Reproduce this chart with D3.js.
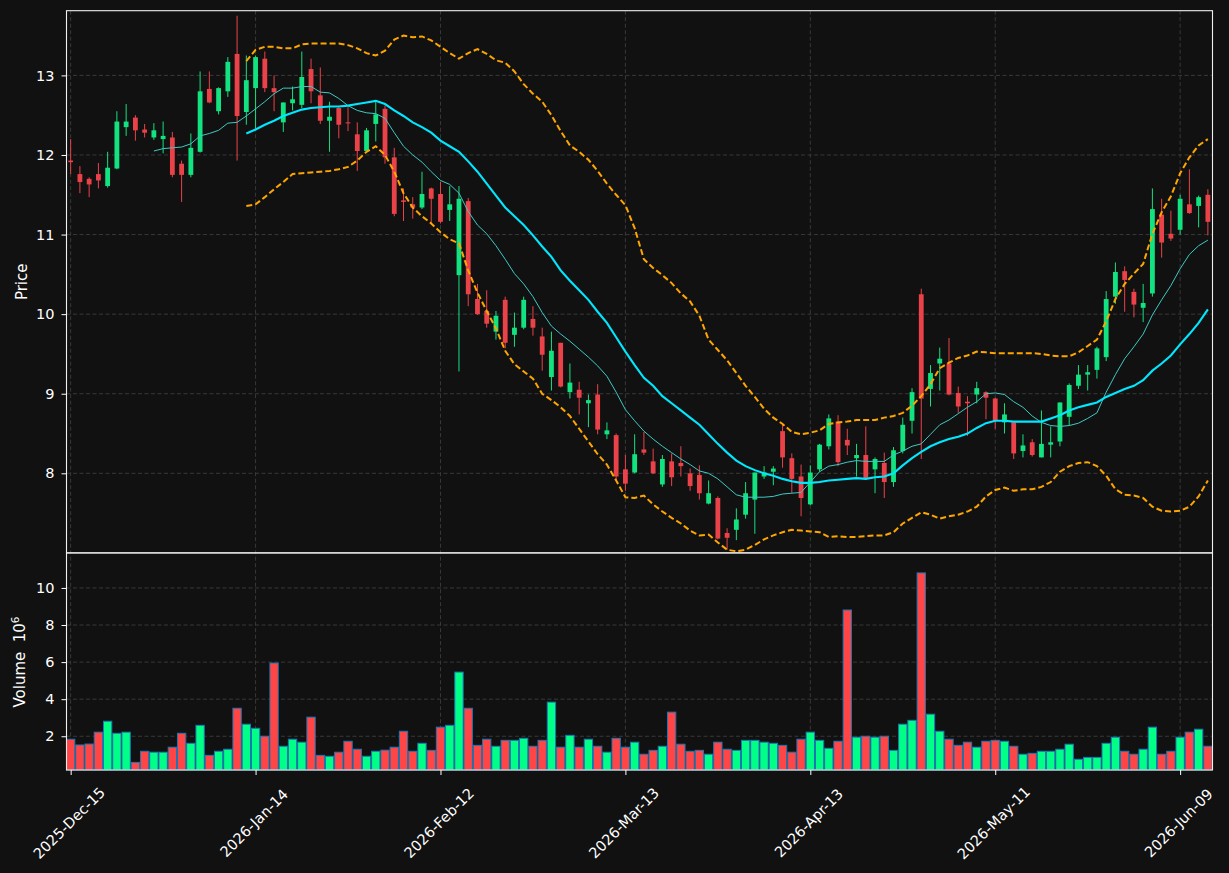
<!DOCTYPE html>
<html>
<head>
<meta charset="utf-8">
<script src="https://cdn.jsdelivr.net/npm/d3@7"></script>
<style>
  body { margin: 0; background: #111111; }
  svg { display: block; font-family: 'DejaVu Sans', sans-serif; }
</style>
</head>
<body>
<div id="chart"></div>
<script>
// OHLC, one entry per trading day (index 0 = 2025-Dec-15)
var opens = [
  11.93, 11.76, 11.70, 11.76, 11.61, 11.83, 12.35, 12.47, 12.32, 12.22,
  12.20, 12.22, 11.89, 11.75, 12.04, 12.83, 12.55, 12.80, 13.27, 12.54,
  12.84, 13.21, 12.84, 12.41, 12.65, 12.63, 13.08, 12.75, 12.43, 12.59,
  12.41, 12.26, 12.05, 12.39, 12.58, 11.97, 11.43, 11.38, 11.34, 11.58,
  11.51, 11.31, 10.49, 11.42, 10.19, 10.04, 9.78, 10.18, 9.74, 9.83,
  9.94, 9.72, 9.21, 9.64, 9.02, 9.05, 8.88, 8.99, 8.49, 8.48,
  8.05, 8.01, 8.30, 8.15, 7.86, 8.15, 8.13, 8.00, 7.98, 7.62,
  7.69, 7.25, 7.29, 7.48, 7.67, 7.96, 8.02, 8.53, 8.19, 7.96,
  7.61, 8.05, 8.34, 8.65, 8.42, 8.19, 8.23, 8.05, 8.13, 7.89,
  8.28, 8.66, 10.25, 9.06, 9.38, 9.38, 9.01, 8.90, 8.99, 9.02,
  8.94, 8.64, 8.64, 8.28, 8.39, 8.20, 8.36, 8.40, 8.71, 9.10,
  9.24, 9.30, 9.46, 10.22, 10.54, 10.28, 10.08, 10.26, 11.25, 11.01,
  11.06, 11.38, 11.36, 11.50
]
var highs = [
  12.20, 11.86, 11.72, 11.90, 12.04, 12.55, 12.64, 12.50, 12.39, 12.40,
  12.42, 12.29, 11.93, 12.27, 13.05, 13.05, 12.85, 13.23, 13.75, 13.25,
  13.25, 13.30, 13.00, 12.66, 12.86, 13.30, 13.21, 13.10, 12.67, 12.60,
  12.60, 12.41, 12.34, 12.67, 12.62, 12.09, 11.58, 11.47, 11.79, 11.59,
  11.66, 11.61, 11.61, 11.46, 10.38, 10.30, 10.04, 10.22, 10.02, 10.22,
  10.10, 9.83, 9.78, 9.64, 9.38, 9.15, 8.99, 9.12, 8.64, 8.50,
  8.23, 8.49, 8.52, 8.31, 8.23, 8.25, 8.34, 8.06, 8.10, 7.91,
  7.71, 7.31, 7.56, 7.89, 8.01, 8.09, 8.09, 8.62, 8.25, 8.11,
  8.10, 8.37, 8.74, 8.73, 8.56, 8.37, 8.59, 8.20, 8.26, 8.33,
  8.70, 9.07, 10.32, 9.36, 9.58, 9.70, 9.09, 8.97, 9.15, 9.03,
  8.95, 8.88, 8.64, 8.49, 8.43, 8.79, 8.59, 8.89, 9.13, 9.36,
  9.36, 9.59, 10.29, 10.65, 10.60, 10.32, 10.38, 11.58, 11.45, 11.30,
  11.50, 11.82, 11.49, 11.57
]
var lows = [
  11.76, 11.52, 11.47, 11.58, 11.59, 11.82, 12.24, 12.18, 12.22, 12.19,
  12.02, 11.72, 11.41, 11.72, 12.03, 12.65, 12.51, 12.73, 11.93, 12.38,
  12.33, 12.79, 12.55, 12.29, 12.56, 12.59, 12.65, 12.39, 12.04, 12.21,
  12.30, 11.80, 12.04, 12.17, 11.89, 11.23, 11.17, 11.20, 11.32, 11.13,
  11.14, 11.17, 9.28, 10.10, 9.99, 9.83, 9.68, 9.57, 9.59, 9.81,
  9.73, 9.29, 9.04, 9.08, 8.94, 8.74, 8.58, 8.49, 8.43, 7.91,
  7.78, 8.00, 8.23, 7.99, 7.83, 7.84, 7.96, 7.78, 7.67, 7.61,
  7.17, 7.04, 7.16, 7.43, 7.24, 7.93, 7.85, 8.07, 7.75, 7.46,
  7.60, 8.02, 8.30, 8.09, 8.23, 7.96, 7.93, 7.75, 7.69, 7.83,
  8.25, 8.50, 8.18, 8.84, 9.04, 8.98, 8.76, 8.47, 8.88, 8.68,
  8.56, 8.50, 8.18, 8.20, 8.21, 8.20, 8.20, 8.34, 8.60, 9.06,
  9.04, 9.19, 9.41, 10.13, 10.03, 9.96, 9.90, 10.22, 10.71, 10.92,
  11.00, 11.26, 11.09, 10.99
]
var closes = [
  11.91, 11.66, 11.63, 11.68, 11.84, 12.42, 12.42, 12.31, 12.28, 12.31,
  12.24, 11.75, 11.75, 12.09, 12.80, 12.66, 12.84, 13.17, 12.49, 12.94,
  13.23, 12.84, 12.79, 12.66, 12.70, 12.98, 12.80, 12.43, 12.48, 12.38,
  12.40, 12.05, 12.31, 12.51, 11.97, 11.26, 11.41, 11.34, 11.51, 11.45,
  11.16, 11.38, 11.45, 10.25, 10.00, 9.88, 9.98, 9.64, 9.83, 10.18,
  9.83, 9.49, 9.54, 9.09, 9.14, 8.95, 8.92, 8.55, 8.54, 7.96,
  7.87, 8.24, 8.26, 8.00, 8.18, 7.95, 8.09, 7.84, 7.75, 7.75,
  7.18, 7.19, 7.42, 7.75, 8.01, 8.01, 8.06, 8.20, 7.93, 7.69,
  8.01, 8.36, 8.69, 8.14, 8.35, 8.23, 7.94, 8.18, 7.89, 8.29,
  8.61, 9.02, 8.94, 9.26, 9.44, 8.99, 8.84, 8.88, 9.07, 8.95,
  8.66, 8.74, 8.25, 8.35, 8.23, 8.37, 8.39, 8.89, 9.11, 9.24,
  9.27, 9.57, 10.19, 10.53, 10.43, 10.12, 10.14, 11.32, 10.90, 10.95,
  11.45, 11.27, 11.47, 11.16
]
// volume in millions
var volumes = [
  1.84, 1.53, 1.58, 2.22, 2.81, 2.16, 2.22, 0.59, 1.19, 1.14,
  1.14, 1.41, 2.16, 1.62, 2.59, 0.97, 1.19, 1.30, 3.51, 2.65,
  2.43, 2.00, 5.95, 1.46, 1.84, 1.68, 3.03, 0.97, 0.92, 1.14,
  1.73, 1.30, 0.92, 1.19, 1.25, 1.41, 2.27, 1.19, 1.62, 1.24,
  2.49, 2.59, 5.46, 3.51, 1.51, 1.84, 1.46, 1.78, 1.78, 1.89,
  1.46, 1.78, 3.84, 1.41, 2.05, 1.41, 1.84, 1.46, 1.14, 1.89,
  1.41, 1.68, 1.03, 1.24, 1.46, 3.30, 1.57, 1.19, 1.24, 1.03,
  1.68, 1.30, 1.24, 1.78, 1.78, 1.68, 1.62, 1.51, 1.14, 1.84,
  2.22, 1.78, 1.35, 1.73, 8.81, 1.95, 2.00, 1.95, 2.00, 1.24,
  2.65, 2.86, 10.81, 3.19, 2.27, 1.84, 1.51, 1.68, 1.41, 1.73,
  1.78, 1.73, 1.46, 1.03, 1.08, 1.19, 1.19, 1.30, 1.57, 0.76,
  0.86, 0.86, 1.62, 1.95, 1.19, 1.03, 1.30, 2.49, 1.03, 1.19,
  1.95, 2.22, 2.38, 1.46
]

// overlay lines (ma10 starts at day 9, the rest at day 19)
var ma10Start = 9
var ma10 = [
  12.05, 12.08, 12.09, 12.10, 12.14, 12.24, 12.27, 12.31, 12.40, 12.41,
  12.49,
  12.58, 12.67, 12.77, 12.84, 12.84, 12.86, 12.86, 12.79, 12.78, 12.71,
  12.62, 12.56, 12.53, 12.52, 12.46, 12.28, 12.11, 12.00, 11.91, 11.79,
  11.68, 11.63, 11.52, 11.29, 11.12, 11.01, 10.86, 10.69, 10.51, 10.38,
  10.22, 10.02, 9.85, 9.75, 9.66, 9.56, 9.46, 9.35, 9.22, 9.02,
  8.80, 8.66, 8.53, 8.43, 8.34, 8.26, 8.18, 8.11, 8.03, 8.00,
  7.93, 7.83, 7.73, 7.70, 7.70, 7.70, 7.71, 7.74, 7.75, 7.76,
  7.89, 8.02, 8.09, 8.11, 8.14, 8.16, 8.15, 8.15, 8.15, 8.23,
  8.28, 8.34, 8.37, 8.49, 8.61, 8.67, 8.75, 8.83, 8.90, 9.00,
  9.01, 8.99, 8.90, 8.83, 8.72, 8.64, 8.60, 8.59, 8.60, 8.63,
  8.69, 8.76, 9.02, 9.24, 9.44, 9.59, 9.75, 9.99, 10.18, 10.36,
  10.57, 10.75, 10.86, 10.93
]
var bandStart = 19
var ma20 = [
  12.27,
  12.32, 12.38, 12.43, 12.49, 12.53, 12.57, 12.59, 12.60, 12.61, 12.61,
  12.62, 12.64, 12.66, 12.68, 12.64, 12.56, 12.49, 12.41, 12.35, 12.28,
  12.18, 12.11, 12.04, 11.92, 11.79, 11.64, 11.49, 11.34, 11.23, 11.12,
  10.99, 10.85, 10.72, 10.55, 10.42, 10.30, 10.18, 10.03, 9.89, 9.71,
  9.53, 9.36, 9.20, 9.10, 8.97, 8.88, 8.79, 8.70, 8.61, 8.49,
  8.37, 8.26, 8.16, 8.09, 8.04, 8.00, 7.97, 7.93, 7.90, 7.88,
  7.88, 7.89, 7.91, 7.92, 7.93, 7.94, 7.93, 7.95, 7.96, 8.00,
  8.10, 8.19, 8.27, 8.34, 8.39, 8.43, 8.46, 8.50, 8.57, 8.63,
  8.66, 8.66, 8.65, 8.65, 8.65, 8.65, 8.69, 8.73, 8.79, 8.83,
  8.86, 8.89, 8.96, 9.01, 9.06, 9.10, 9.17, 9.29, 9.38, 9.48,
  9.62, 9.75, 9.89, 10.06
]
var bandUpper = [
  13.18,
  13.32, 13.36, 13.36, 13.34, 13.34, 13.39, 13.40, 13.40, 13.40, 13.40,
  13.38, 13.34, 13.28, 13.25, 13.31, 13.45, 13.50, 13.48, 13.49, 13.44,
  13.36, 13.28, 13.21, 13.28, 13.33, 13.27, 13.19, 13.16, 13.05, 12.89,
  12.77, 12.67, 12.50, 12.30, 12.12, 12.04, 11.94, 11.80, 11.64, 11.50,
  11.37, 11.08, 10.69, 10.58, 10.49, 10.39, 10.26, 10.16, 9.98, 9.68,
  9.55, 9.42, 9.26, 9.10, 8.96, 8.81, 8.70, 8.62, 8.52, 8.49,
  8.51, 8.54, 8.62, 8.64, 8.65, 8.67, 8.67, 8.67, 8.70, 8.72,
  8.76, 8.85, 8.97, 9.12, 9.32, 9.39, 9.45, 9.48, 9.53, 9.52,
  9.51, 9.51, 9.51, 9.51, 9.51, 9.50, 9.48, 9.47, 9.47, 9.52,
  9.60, 9.68, 9.91, 10.19, 10.38, 10.51, 10.63, 11.01, 11.28, 11.48,
  11.77, 11.97, 12.12, 12.20
]
var bandLower = [
  11.36,
  11.38, 11.47, 11.57, 11.66, 11.76, 11.77, 11.78, 11.79, 11.80, 11.82,
  11.85, 11.93, 12.04, 12.11, 12.00, 11.79, 11.52, 11.34, 11.23, 11.14,
  11.03, 10.94, 10.89, 10.55, 10.27, 10.04, 9.82, 9.54, 9.37, 9.28,
  9.19, 9.00, 8.92, 8.83, 8.72, 8.56, 8.40, 8.24, 8.11, 7.91,
  7.70, 7.69, 7.72, 7.61, 7.52, 7.44, 7.37, 7.28, 7.22, 7.23,
  7.13, 7.04, 7.02, 7.04, 7.10, 7.17, 7.22, 7.26, 7.29, 7.28,
  7.27, 7.26, 7.20, 7.21, 7.20, 7.20, 7.21, 7.22, 7.22, 7.26,
  7.37, 7.44, 7.51, 7.48, 7.43, 7.46, 7.48, 7.52, 7.58, 7.71,
  7.79, 7.82, 7.78, 7.80, 7.80, 7.83, 7.89, 8.02, 8.09, 8.13,
  8.14, 8.09, 7.97, 7.80, 7.73, 7.72, 7.69, 7.58, 7.53, 7.52,
  7.53, 7.58, 7.71, 7.91
]

// axis ticks
var dateTickIndex = [0, 20, 40, 60, 80, 100, 120]
var dateTickLabels = ['2025-Dec-15', '2026-Jan-14', '2026-Feb-12', '2026-Mar-13',
  '2026-Apr-13', '2026-May-11', '2026-Jun-09']
var priceTicks = [8, 9, 10, 11, 12, 13]
var volumeTicks = [2, 4, 6, 8, 10]

;(function () {
  'use strict'

  // Dimensions and stuff
  var w = 1229
  var h = 873
  var left = 66.5
  var right = 1212.5
  var priceTop = 10.7
  var priceBottom = 552.9
  var volBottom = 770
  var fontSize = '14.5px'

  var upColor = '#12e27f'
  var downColor = '#ea4249'
  var volUp = '#00ff87'
  var volDown = '#ff4545'
  var gridColor = '#3d3d3d'
  var textColor = '#ffffff'

  var svg = d3.select('#chart').append('svg')
    .attr('width', w)
    .attr('height', h)

  svg.append('rect')
    .attr('width', w).attr('height', h)
    .attr('fill', '#111111')

  var x = d3.scaleLinear().domain([-0.45, 123.5]).range([left, right])
  var yPrice = d3.scaleLinear().domain([7.0, 13.813]).range([priceBottom, priceTop])
  var yVol = d3.scaleLinear().domain([0.18, 11.89]).range([volBottom, priceBottom])
  var step = x(1) - x(0)

  // Grid lines
  var grid = svg.append('g').attr('class', 'grid')
    .attr('stroke', gridColor)
    .attr('stroke-width', 0.9)
    .attr('stroke-dasharray', '4,2.5')

  grid.selectAll('.gp').data(priceTicks).enter().append('line')
    .attr('x1', left).attr('x2', right)
    .attr('y1', function (d) { return yPrice(d) })
    .attr('y2', function (d) { return yPrice(d) })

  grid.selectAll('.gv').data(volumeTicks).enter().append('line')
    .attr('x1', left).attr('x2', right)
    .attr('y1', function (d) { return yVol(d) })
    .attr('y2', function (d) { return yVol(d) })

  grid.selectAll('.gx').data(dateTickIndex).enter().append('line')
    .attr('x1', function (d) { return x(d) })
    .attr('x2', function (d) { return x(d) })
    .attr('y1', priceTop).attr('y2', volBottom)

  var days = d3.range(opens.length)

  // Volume bars
  var bw = step * 0.9
  svg.append('g').selectAll('rect').data(days).enter().append('rect')
    .attr('x', function (i) { return x(i) - bw / 2 })
    .attr('y', function (i) { return yVol(volumes[i]) })
    .attr('width', bw)
    .attr('height', function (i) { return volBottom - yVol(volumes[i]) })
    .attr('fill', function (i) { return closes[i] >= opens[i] ? volUp : volDown })
    .attr('stroke', '#1f77b4')
    .attr('stroke-width', 1)

  // Candles
  var cw = step * 0.52
  var candles = svg.append('g').selectAll('g').data(days).enter().append('g')
  candles.append('line')
    .attr('x1', function (i) { return x(i) })
    .attr('x2', function (i) { return x(i) })
    .attr('y1', function (i) { return yPrice(highs[i]) })
    .attr('y2', function (i) { return yPrice(lows[i]) })
    .attr('stroke', function (i) { return closes[i] >= opens[i] ? upColor : downColor })
    .attr('stroke-width', 1)
  candles.append('rect')
    .attr('x', function (i) { return x(i) - cw / 2 })
    .attr('y', function (i) { return yPrice(Math.max(opens[i], closes[i])) })
    .attr('width', cw)
    .attr('height', function (i) {
      return Math.max(1, Math.abs(yPrice(opens[i]) - yPrice(closes[i])))
    })
    .attr('fill', function (i) { return closes[i] >= opens[i] ? upColor : downColor })

  // Overlay lines
  function drawLine (values, start, color, width, dash) {
    var line = d3.line()
      .x(function (d, i) { return x(i + start) })
      .y(function (d) { return yPrice(d) })
    svg.append('path')
      .datum(values)
      .attr('d', line)
      .attr('fill', 'none')
      .attr('stroke', color)
      .attr('stroke-width', width)
      .attr('stroke-dasharray', dash || null)
  }

  drawLine(ma10, ma10Start, '#3fc9c4', 1)
  drawLine(ma20, bandStart, '#00e8ff', 2.1)
  drawLine(bandUpper, bandStart, '#ffa500', 2, '6,3')
  drawLine(bandLower, bandStart, '#ffa500', 2, '6,3')

  // Frames
  var frame = svg.append('g').attr('fill', 'none')
    .attr('stroke', '#f0f0f0').attr('stroke-width', 1.1)
  frame.append('rect')
    .attr('x', left).attr('y', priceTop)
    .attr('width', right - left).attr('height', priceBottom - priceTop)
  frame.append('rect')
    .attr('x', left).attr('y', priceBottom)
    .attr('width', right - left).attr('height', volBottom - priceBottom)

  // Axes
  function styleAxis (g) {
    g.select('.domain').remove()
    g.selectAll('.tick line').attr('stroke', textColor)
    g.selectAll('.tick text')
      .attr('fill', textColor)
      .style('font-size', fontSize)
      .style('font-family', 'DejaVu Sans, sans-serif')
  }

  svg.append('g')
    .attr('transform', 'translate(' + left + ',0)')
    .call(d3.axisLeft(yPrice).tickValues(priceTicks).tickSize(5).tickPadding(7)
      .tickFormat(d3.format('d')))
    .call(styleAxis)

  svg.append('g')
    .attr('transform', 'translate(' + left + ',0)')
    .call(d3.axisLeft(yVol).tickValues(volumeTicks).tickSize(5).tickPadding(7)
      .tickFormat(d3.format('d')))
    .call(styleAxis)

  var xAxis = svg.append('g')
    .attr('transform', 'translate(0,' + volBottom + ')')
    .call(d3.axisBottom(x).tickValues(dateTickIndex).tickSize(5)
      .tickFormat(function (d, i) { return dateTickLabels[i] }))
    .call(styleAxis)

  xAxis.selectAll('.tick text')
    .attr('y', 0)
    .attr('dy', '0.35em')
    .attr('text-anchor', 'middle')
    .attr('transform', 'translate(-2,53) rotate(-45)')

  // Axis titles
  svg.append('text')
    .attr('transform', 'translate(27,' + ((priceTop + priceBottom) / 2) + ') rotate(-90)')
    .attr('text-anchor', 'middle')
    .attr('fill', textColor)
    .style('font-size', '15px')
    .text('Price')

  var volLabel = svg.append('text')
    .attr('transform', 'translate(25,662) rotate(-90)')
    .attr('text-anchor', 'middle')
    .attr('fill', textColor)
    .style('font-size', '15px')
    .style('white-space', 'pre')
  volLabel.append('tspan').text('Volume  10')
  volLabel.append('tspan')
    .attr('dy', -6)
    .style('font-size', '10.5px')
    .text('6')
}())
</script>
</body>
</html>
